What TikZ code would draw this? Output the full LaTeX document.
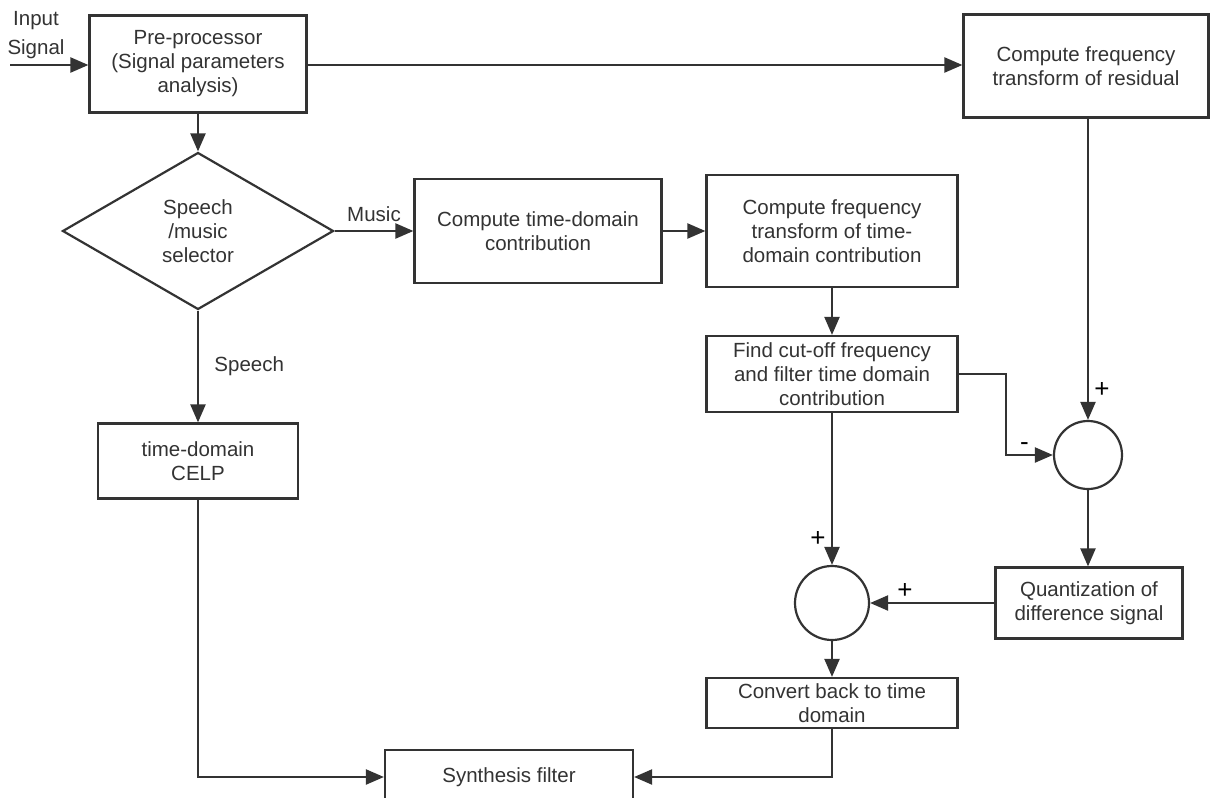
\documentclass[tikz,border=0pt]{standalone}
\usepackage{fontspec}
\setmainfont{Liberation Sans}
\usepackage{tikz}
\usetikzlibrary{
	arrows.meta,
	positioning,
	shapes.geometric
}

\tikzset{
	block/.style={draw=black!80, line width=2.2pt, rectangle, align=center,
		inner sep=1pt, text=black!80, font=\fontsize{20.5}{24}\selectfont},
	decision/.style={block, diamond, inner sep=0pt},
	sumnode/.style={draw=black!80, line width=2.2pt, circle, inner sep=0pt},
	arr/.style={draw=black!80, line width=2.2pt, -{Triangle[length=18pt,width=15pt]}},
	lbl/.style={text=black!80, font=\fontsize{20.5}{29}\selectfont, align=center},
	sign/.style={text=black, font=\fontsize{26}{26}\selectfont}
}

\begin{document}
\begin{tikzpicture}[x=1pt, y=-1pt]
		
		\fill[white] (0,0) rectangle (1211,798);
		\useasboundingbox (0,0) rectangle (1211,798);
		
		% Blocks
		\node[block, minimum width=217pt, minimum height=97pt] (pre) at (198,64)
		{Pre-processor\\(Signal parameters\\analysis)};
		\node[block, minimum width=245pt, minimum height=103pt] (resid) at (1086,66)
		{Compute frequency\\transform of residual};
		\node[decision, minimum width=271pt, minimum height=157pt] (sel) at (198,231)
		{Speech\\/music\\selector};
		\node[block, minimum width=247pt, minimum height=104pt] (ctd) at (538,231)
		{Compute time-domain\\contribution};
		\node[block, minimum width=251pt, minimum height=112pt] (ftd) at (832,231)
		{Compute frequency\\transform of time-\\domain contribution};
		\node[block, minimum width=251pt, minimum height=76pt] (find) at (832,374)
		{Find cut-off frequency\\and filter time domain\\contribution};
		\node[block, minimum width=200pt, minimum height=75pt] (celp) at (198,461)
		{time-domain\\CELP};
		\node[sumnode, minimum size=68pt] (sumA) at (1088,455) {};
		\node[block, minimum width=187pt, minimum height=71pt] (quant) at (1089,603)
		{Quantization of\\difference signal};
		\node[sumnode, minimum size=74pt] (sumB) at (832,603) {};
		\node[block, minimum width=251pt, minimum height=50pt] (conv) at (832,703)
		{Convert back to time\\domain};
		\node[block, minimum width=248pt, minimum height=54pt] (synth) at (509,777)
		{Synthesis filter};
		
		% Input
		\coordinate (in) at (10,65);
		\node[lbl] (inlbl) at (36,35) {Input\\Signal};
		\draw[arr] (in) -- (in -| pre.west);
		
		% Connectors
		\draw[arr] (pre.east |- in) -- (in -| resid.west);
		\draw[arr] (pre) -- (sel);
		\draw[arr] (sel.east) -- node[lbl, above=5pt] {Music} (ctd.west);
		\draw[arr] (ctd) -- (ftd);
		\draw[arr] (ftd) -- (find);
		\draw[arr] (sel.south) -- node[lbl, right, xshift=12pt] {Speech} (celp.north);
		\draw[arr] (celp.south) |- (synth.west);
		\draw[arr] (conv.south) |- (synth.east);
		
		\draw[arr] (find.east) -- ++(47,0) |- node[sign, pos=0.7, above] {-} (sumA.west);
		\draw[arr] (resid.south -| sumA.north) -- node[sign, pos=0.9, right, xshift=2pt] {+} (sumA.north);
		\draw[arr] (sumA) -- (sumA |- quant.north);
		\draw[arr] (quant.west) -- node[sign, pos=0.72, above] {+} (sumB.east);
		\draw[arr] (find.south) -- node[sign, pos=0.83, left, xshift=-2pt] {+} (sumB.north);
		\draw[arr] (sumB) -- (conv);
		
	\end{tikzpicture}
\end{document}
